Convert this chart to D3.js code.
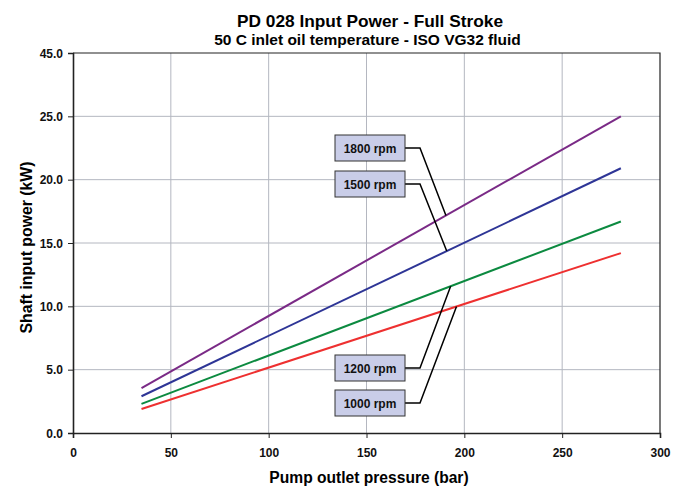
<!DOCTYPE html>
<html lang="en">
  <head>
    <meta charset="utf-8" />
    <title>PD 028 input power</title>
    <script type="text/javascript" src="https://d3js.org/d3.v7.min.js"></script>
    <style>
      body { margin: 0; background: #fff; }
      text { font-family: "Liberation Sans", Arial, sans-serif; font-weight: bold; }
    </style>
  </head>
  <body>
    <div id="chart"></div>
    <script type="text/javascript">
      /********************************
       * data
       ********************************/

      const speeds = ["1000 rpm", "1200 rpm", "1500 rpm", "1800 rpm"];
      const pressure = [35, 280]; // bar
      const power1000 = [1.9, 14.2];
      const power1200 = [2.3, 16.7];
      const power1500 = [2.9, 20.9];
      const power1800 = [3.55, 25.0];
      const xTicks = [0, 50, 100, 150, 200, 250, 300];
      const yTicks = [0, 5, 10, 15, 20, 25, 30];
      const yTickLabels = ["0.0", "5.0", "10.0", "15.0", "20.0", "25.0", "45.0"];
      // where each callout touches its line (bar)
      const calloutAt = [196, 193, 191, 190.6];

      const seriesPower = [power1000, power1200, power1500, power1800];
      const colors = ["#ee3030", "#0c8a40", "#2e3596", "#7a2a86"];

      /***************************
       * svg
       **************************/

      const width = 687;
      const height = 489;
      const margin = { top: 53, right: 27, bottom: 56, left: 73 };

      const svg = d3
        .select("#chart")
        .append("svg")
        .attr("width", width)
        .attr("height", height);

      const x = d3
        .scaleLinear()
        .domain([0, 300])
        .range([margin.left, width - margin.right]);
      const y = d3
        .scaleLinear()
        .domain([0, 30])
        .range([height - margin.bottom, margin.top]);

      // grid
      svg
        .append("g")
        .selectAll("line")
        .data(xTicks.slice(1, -1))
        .join("line")
        .attr("x1", (d) => x(d))
        .attr("x2", (d) => x(d))
        .attr("y1", y(0))
        .attr("y2", y(30))
        .attr("stroke", "#b4b7c0")
        .attr("stroke-width", 1);
      svg
        .append("g")
        .selectAll("line")
        .data(yTicks.slice(1, -1))
        .join("line")
        .attr("x1", x(0))
        .attr("x2", x(300))
        .attr("y1", (d) => y(d))
        .attr("y2", (d) => y(d))
        .attr("stroke", "#b4b7c0")
        .attr("stroke-width", 1);

      // frame top / right
      svg
        .append("path")
        .attr("d", `M${x(0)},${y(30)}H${x(300)}V${y(0)}`)
        .attr("fill", "none")
        .attr("stroke", "#222")
        .attr("stroke-width", 1.2);

      // axes
      const xAxis = svg
        .append("g")
        .attr("transform", `translate(0,${y(0)})`)
        .call(d3.axisBottom(x).tickValues(xTicks).tickSize(5).tickPadding(10));
      const yAxis = svg
        .append("g")
        .attr("transform", `translate(${x(0)},0)`)
        .call(
          d3
            .axisLeft(y)
            .tickValues(yTicks)
            .tickSize(5)
            .tickPadding(5)
            .tickFormat((d, i) => yTickLabels[i])
        );
      [xAxis, yAxis].forEach((a) => {
        a.select(".domain").attr("stroke", "#222").attr("stroke-width", 1.6);
        a.selectAll(".tick line").attr("stroke", "#222");
        a.selectAll(".tick text")
          .attr("fill", "#111")
          .style("font-size", "12px");
      });
      yAxis.selectAll(".tick text").attr("dy", "0.35em");

      // series
      const line = d3
        .line()
        .x((d) => x(d[0]))
        .y((d) => y(d[1]));

      seriesPower.forEach((vals, i) => {
        svg
          .append("path")
          .datum(pressure.map((p, j) => [p, vals[j]]))
          .attr("d", line)
          .attr("fill", "none")
          .attr("stroke", colors[i])
          .attr("stroke-width", 2);
      });

      // callouts
      const boxTop = [390, 355, 171, 135];
      const boxLeft = 335;
      const boxW = 70;
      const boxH = 26;

      speeds.forEach((s, i) => {
        const vals = seriesPower[i];
        const px = calloutAt[i];
        const py =
          vals[0] + ((px - pressure[0]) * (vals[1] - vals[0])) / (pressure[1] - pressure[0]);
        const cy = boxTop[i] + boxH / 2;
        svg
          .append("path")
          .attr("d", `M${boxLeft + boxW},${cy}H${boxLeft + boxW + 15}L${x(px)},${y(py)}`)
          .attr("fill", "none")
          .attr("stroke", "#000")
          .attr("stroke-width", 1.5);
        svg
          .append("rect")
          .attr("x", boxLeft)
          .attr("y", boxTop[i])
          .attr("width", boxW)
          .attr("height", boxH)
          .attr("fill", "#c9cde8")
          .attr("stroke", "#333")
          .attr("stroke-width", 1);
        svg
          .append("text")
          .attr("x", boxLeft + boxW / 2)
          .attr("y", cy + 4.5)
          .attr("text-anchor", "middle")
          .style("font-size", "12px")
          .attr("fill", "#111")
          .text(s);
      });

      // titles
      svg
        .append("text")
        .attr("x", 370)
        .attr("y", 26.5)
        .attr("text-anchor", "middle")
        .style("font-size", "17.3px")
        .attr("fill", "#000")
        .text("PD 028 Input Power - Full Stroke");
      svg
        .append("text")
        .attr("x", 367.5)
        .attr("y", 45)
        .attr("text-anchor", "middle")
        .style("font-size", "15.5px")
        .attr("fill", "#000")
        .text("50 C inlet oil temperature - ISO VG32 fluid");
      svg
        .append("text")
        .attr("x", 369)
        .attr("y", 483)
        .attr("text-anchor", "middle")
        .style("font-size", "15.6px")
        .attr("fill", "#000")
        .text("Pump outlet pressure (bar)");
      svg
        .append("text")
        .attr("transform", `translate(32,247.5) rotate(-90)`)
        .attr("text-anchor", "middle")
        .style("font-size", "15.8px")
        .attr("fill", "#000")
        .text("Shaft input power (kW)");
    </script>
  </body>
</html>
